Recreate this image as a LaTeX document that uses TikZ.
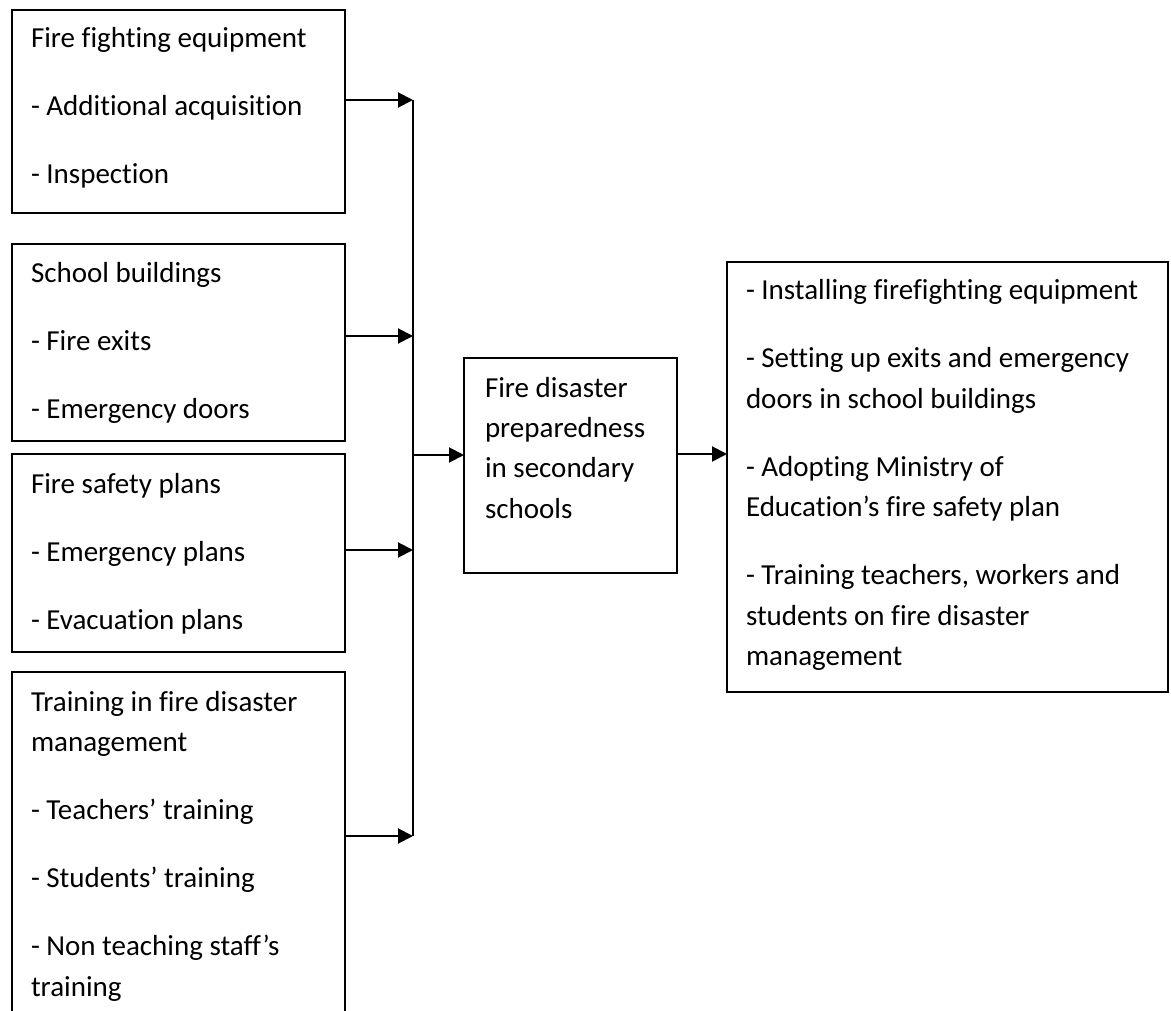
\documentclass[tikz,border=0pt]{standalone}
\usepackage{fontspec}
\setmainfont{Carlito}[Ligatures={NoCommon}]
\usetikzlibrary{arrows.meta}
\newcommand{\pgap}{\\[27.5pt]}
\begin{document}
\begin{tikzpicture}[x=1pt,y=-1pt,
  box/.style={draw, line width=2pt, rectangle, inner sep=0pt, outer sep=0pt, anchor=north west},
  txt/.style={anchor=base west, inner sep=0pt, outer sep=0pt, font=\fontsize{29}{40.5}\selectfont},
  arr/.style={line width=2pt, -{Triangle[length=15pt,width=15pt]}},
  bus/.style={line width=2pt}]
\useasboundingbox (0,0) rectangle (1171,1011);
\clip (0,0) rectangle (1171,1011);
% left boxes
\node[box, minimum width=333pt, minimum height=203pt] (box1) at (12,10) {};
\node[box, minimum width=333pt, minimum height=197pt] (box2) at (12,244) {};
\node[box, minimum width=333pt, minimum height=198pt] (box3) at (12,454) {};
\node[box, minimum width=333pt, minimum height=380pt] (box4) at (12,672) {};
% centre and right boxes
\node[box, minimum width=213pt, minimum height=215pt] (mid) at (464,358) {};
\node[box, minimum width=441pt, minimum height=430pt] (res) at (727,262) {};
% texts
\node[txt] (t1) at (31,48) {\parbox[t]{320pt}{\raggedright Fire fighting equipment\pgap - Additional acquisition\pgap - Inspection}};
\node[txt] (t2) at (31,283) {\parbox[t]{320pt}{\raggedright School buildings\pgap - Fire exits\pgap - Emergency doors}};
\node[txt] (t3) at (31,493) {\parbox[t]{320pt}{\raggedright Fire safety plans\pgap - Emergency plans\pgap - Evacuation plans}};
\node[txt] (t4) at (31,711) {\parbox[t]{320pt}{\raggedright Training in fire disaster\\ management\pgap - Teachers’ training\pgap - Students’ training\pgap - Non teaching staff’s\\ training}};
\node[txt] (tm) at (485,397) {\parbox[t]{200pt}{\raggedright Fire disaster\\ preparedness\\ in secondary\\ schools}};
\node[txt] (tr) at (746,300) {\parbox[t]{420pt}{\raggedright - Installing firefighting equipment\pgap - Setting up exits and emergency\\ doors in school buildings\pgap - Adopting Ministry of\\ Education’s fire safety plan\pgap - Training teachers, workers and\\ students on fire disaster\\ management}};
% bus coordinates
\coordinate (b1) at (413,100);
\coordinate (b2) at (413,336);
\coordinate (b3) at (413,550);
\coordinate (b4) at (413,836);
\coordinate (bm) at (413,455);
\coordinate (m2) at (700,454);
\draw[bus] (b1) -- (b4);
\draw[arr] (box1.east |- b1) -- (b1);
\draw[arr] (box2.east |- b2) -- (b2);
\draw[arr] (box3.east |- b3) -- (b3);
\draw[arr] (box4.east |- b4) -- (b4);
\draw[arr] (bm) -- (mid.west |- bm);
\draw[arr] (mid.east |- m2) -- (res.west |- m2);
\end{tikzpicture}
\end{document}
